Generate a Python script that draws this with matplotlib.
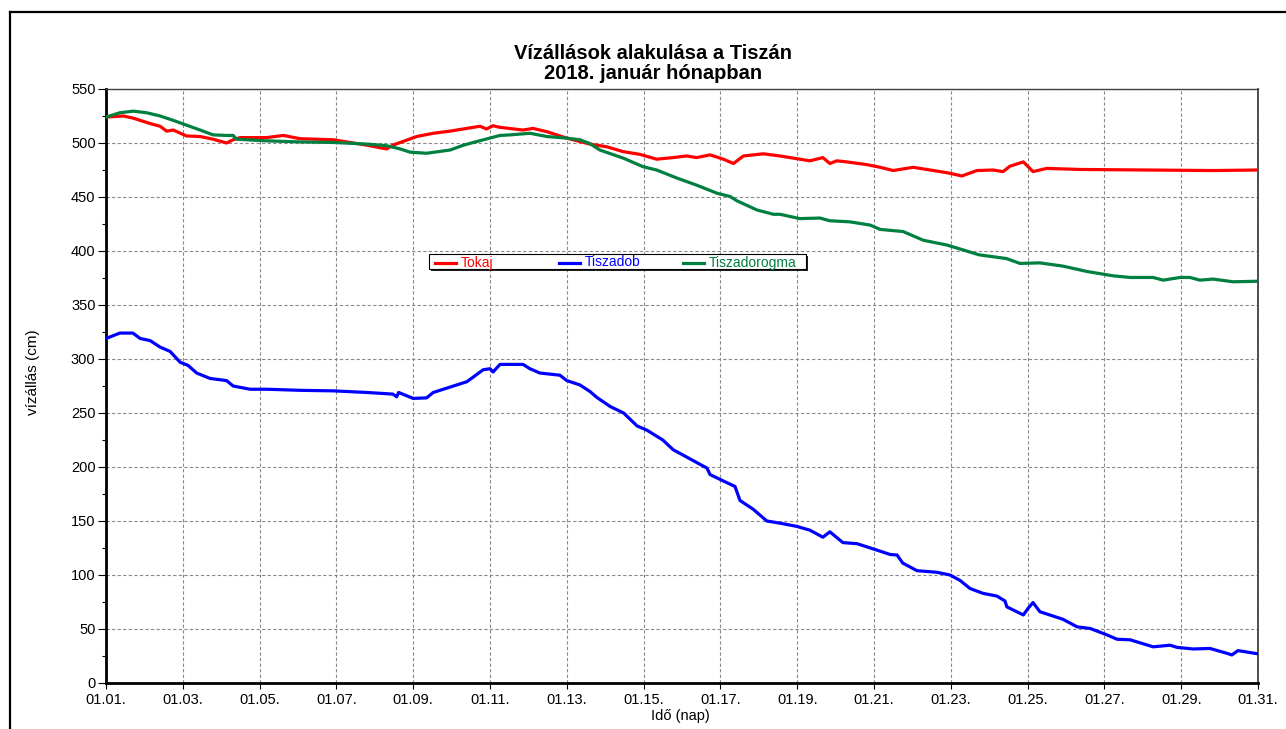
import numpy as np
import matplotlib
matplotlib.use("Agg")
import matplotlib.pyplot as plt
from matplotlib.lines import Line2D
from matplotlib.patches import Rectangle

plt.rcParams['font.family'] = ['Liberation Sans', 'DejaVu Sans']

# napok 01.01.-tol (0 = 01.01.)
tiszadob_t = [0, 0.36, 0.7, 0.89, 1.15, 1.41, 1.67, 1.93, 2.14, 2.36,
              2.71, 3.14, 3.31, 3.75, 4.19, 5.05, 5.92, 6.8, 7.47, 7.57,
              7.62, 8.0, 8.35, 8.52, 8.96, 9.4, 9.82, 10.0, 10.08, 10.26,
              10.86, 11.04, 11.3, 11.82, 12.0, 12.34, 12.6, 12.78, 13.13, 13.48,
              13.83, 14.09, 14.5, 14.77, 15.03, 15.39, 15.65, 15.73, 16.08, 16.38,
              16.51, 16.85, 17.21, 17.55, 17.99, 18.33, 18.67, 18.85, 19.19, 19.56,
              20.08, 20.42, 20.6, 20.75, 21.12, 21.64, 21.98, 22.24, 22.5, 22.84,
              23.2, 23.41, 23.46, 23.89, 24.01, 24.14, 24.32, 24.92, 25.29, 25.63,
              26.07, 26.33, 26.67, 27.27, 27.71, 27.89, 28.31, 28.75, 29.19, 29.32,
              29.48, 30.0]
tiszadob_v = [319, 324, 324, 319, 317, 311, 307, 297, 294, 287,
              282, 280, 275, 272, 272, 271, 270.5, 269, 267.5, 265,
              269, 263.5, 264, 269, 274, 279, 290, 291, 288, 295,
              295, 291, 287, 285, 280, 276, 270, 264.5, 256, 250,
              238, 234, 225, 216, 211, 204, 199, 193, 187, 182,
              169, 161, 150, 148, 145, 141.5, 135, 140, 130, 129,
              123, 119, 118.5, 111, 104, 102.5, 100, 95, 87.5, 83,
              80.5, 76, 70.5, 63, 69, 74.5, 66, 59, 52, 50.5,
              44.5, 40.5, 40, 33.5, 35, 33, 31.5, 32, 27.5, 26,
              30, 27]

tokaj_t = [0, 0.45, 0.71, 1.15, 1.41, 1.58, 1.75, 2.1, 2.45, 2.79,
           3.14, 3.31, 3.49, 4.18, 4.62, 5.05, 5.92, 6.79, 7.31, 7.47,
           8.09, 8.52, 8.96, 9.39, 9.74, 9.91, 10.08, 10.26, 10.86, 11.12,
           11.48, 12.0, 12.6, 13.04, 13.47, 13.9, 14.34, 14.77, 15.12, 15.38,
           15.73, 16.08, 16.34, 16.6, 17.12, 17.55, 18.07, 18.33, 18.67, 18.85,
           19.03, 19.29, 19.81, 20.16, 20.5, 21.02, 21.46, 21.9, 22.29, 22.68,
           23.1, 23.36, 23.54, 23.89, 24.14, 24.5, 25.36, 27.1, 28.83, 30.0]
tokaj_v = [524, 525, 523, 518, 515.5, 511, 512, 506.5, 506, 503.5,
           500, 503, 505, 505, 507, 504, 503, 498, 494.5, 498,
           506, 509, 511, 513.5, 515.5, 513, 516, 514.5, 512, 513.5,
           510.5, 504.5, 499, 496.5, 492, 489.5, 485, 486.5, 488, 486.5,
           489, 485, 481, 488, 490, 488, 485, 483.5, 486.5, 481,
           483.5, 482.5, 480, 477.5, 474.5, 477.5, 475, 472.5, 469.5, 474.5,
           475, 473.5, 478.5, 482.5, 473.5, 476.5, 475.5, 475, 474.5, 475]

dorogma_t = [0, 0.36, 0.71, 1.06, 1.41, 1.75, 2.1, 2.45, 2.79, 3.14,
             3.31, 3.4, 4.18, 5.05, 5.92, 6.79, 7.31, 7.66, 7.92, 8.35,
             8.96, 9.31, 9.83, 10.26, 10.52, 11.04, 11.48, 12.0, 12.34, 12.6,
             12.86, 13.47, 13.99, 14.34, 14.87, 15.38, 15.91, 16.25, 16.43, 16.95,
             17.38, 17.55, 18.07, 18.59, 18.85, 19.37, 19.9, 20.16, 20.76, 21.28,
             21.9, 22.32, 22.73, 23.45, 23.8, 24.32, 24.92, 25.55, 26.23, 26.67,
             27.27, 27.53, 27.97, 28.23, 28.49, 28.83, 29.35, 30.0]
dorogma_v = [524, 528, 529.5, 528, 525, 521, 516.5, 512, 507.5, 507,
             507, 503.5, 502, 501, 500.5, 499, 497.5, 494.5, 491.5, 490.5,
             493.5, 498, 503, 507, 507.5, 509, 506, 504.5, 503, 499.5,
             493.5, 486, 478, 475, 467.5, 461, 453.5, 450.5, 446.5, 438,
             434, 434, 430, 430.5, 428, 427, 424, 420, 418, 410,
             405.5, 401, 396.5, 393, 388.5, 389, 386, 381, 377, 375.5,
             375.5, 373, 375.5, 375.5, 373, 374, 371.5, 372]

x_ticks = list(range(0, 31, 2))
x_labels = [f"01.{d + 1:02d}." for d in x_ticks]

RED = '#ff0000'
BLUE = '#0000ff'
GREEN = '#008040'

W, H = 1286, 729
fig = plt.figure(figsize=(W / 100, H / 100), dpi=100)
ax = fig.add_axes([106 / W, 1 - 683 / H, 1152 / W, 594 / H])

ax.plot(tokaj_t, tokaj_v, color=RED, lw=2.3, solid_joinstyle='round', zorder=3)
ax.plot(tiszadob_t, tiszadob_v, color=BLUE, lw=2.3, solid_joinstyle='round', zorder=3)
ax.plot(dorogma_t, dorogma_v, color=GREEN, lw=2.3, solid_joinstyle='round', zorder=3)

ax.set_xlim(0, 30)
ax.set_ylim(0, 550)
ax.set_xticks(x_ticks)
ax.set_xticklabels(x_labels)
ax.set_yticks(range(0, 551, 50))
ax.set_yticks(range(25, 550, 50), minor=True)
ax.tick_params(axis='y', which='major', length=6, width=0.8, pad=1.5, labelsize=10.5)
ax.tick_params(axis='y', which='minor', length=3, width=0.8)
ax.tick_params(axis='x', which='major', length=4, width=0.8, pad=3.5, labelsize=10.5)
ax.grid(True, which='major', color='#8a8a8a', linestyle=(0, (3, 2)), lw=0.8)

for s in ('left', 'bottom'):
    ax.spines[s].set_linewidth(2.0)
    ax.spines[s].set_color('black')
ax.spines['top'].set_linewidth(1.0)
ax.spines['top'].set_color('#404040')
ax.spines['right'].set_linewidth(1.3)
ax.spines['right'].set_color('#404040')

fig.text(653 / W, 1 - 63.5 / H, "Vízállások alakulása a Tiszán\n2018. január hónapban",
         ha='center', va='center', fontsize=14.5, fontweight='bold', linespacing=1.05)
fig.text(33 / W, 1 - 372 / H, "vízállás (cm)", rotation=90, ha='center', va='center', fontsize=11)
fig.text(680 / W, 1 - 716 / H, "Idő (nap)", ha='center', va='center', fontsize=10.5)

# keret
fig.add_artist(Line2D([10 / W, 1], [1 - 12 / H, 1 - 12 / H], color='black', lw=1.6))
fig.add_artist(Line2D([10 / W, 10 / W], [0, 1 - 12 / H], color='black', lw=1.6))

# jelmagyarazat
bx0, bx1, by0, by1 = 429, 806, 254, 269
fig.add_artist(Rectangle(((bx0 + 2) / W, 1 - (by1 + 2) / H), (bx1 - bx0) / W, (by1 - by0) / H,
                         transform=fig.transFigure, facecolor='#202020', edgecolor='none', zorder=5))
fig.add_artist(Rectangle((bx0 / W, 1 - by1 / H), (bx1 - bx0) / W, (by1 - by0) / H,
                         transform=fig.transFigure, facecolor='white', edgecolor='black', lw=0.8, zorder=6))
ly = 1 - 262.5 / H
ty = 1 - 266.5 / H
for x0, name, col in [(435, 'Tokaj', RED), (559, 'Tiszadob', BLUE), (683, 'Tiszadorogma', GREEN)]:
    fig.add_artist(Line2D([x0 / W, (x0 + 21) / W], [ly, ly], color=col, lw=2.3, zorder=7))
    fig.text((x0 + 26) / W, ty, name, color=col, fontsize=10, ha='left', va='baseline', zorder=7)

fig.savefig('out.png', dpi=100)
